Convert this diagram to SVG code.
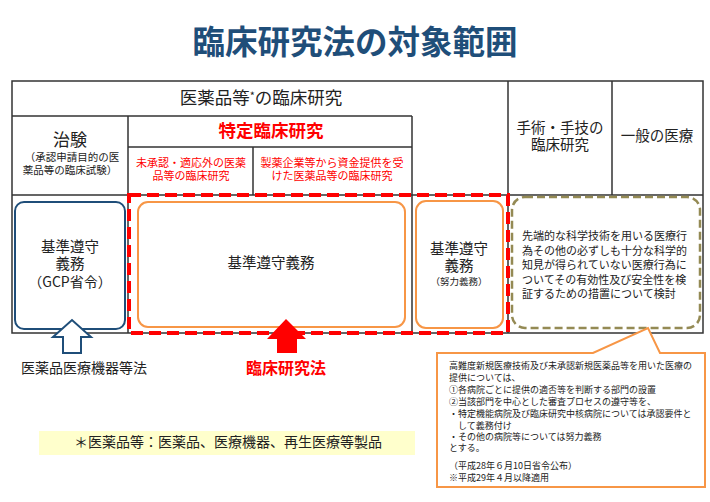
<svg xmlns="http://www.w3.org/2000/svg" width="710" height="502" viewBox="0 0 710 502">
<style>
text{font-family:"Noto Sans CJK JP","Noto Sans",sans-serif;fill:#222;}
.c{text-anchor:middle;}
.tbl{stroke:#333;stroke-width:1.5;fill:none;}
.red{fill:#ff0000;}
.orange{fill:#fff;stroke:#f79646;stroke-width:2;}
</style>
<rect width="710" height="502" fill="#fff"/>
<g id="title"><text x="355" y="54" class="c" font-size="32.5" font-weight="bold" style="fill:#1f4e79">臨床研究法の対象範囲</text></g>
<g id="table">
<rect class="tbl" x="12" y="81" width="691" height="252"/>
<path class="tbl" d="M12 116H412M508 81V333M612 81V195M12 195H703M128 116V333M128 147H412M253 147V195M412 116V333"/>
</g>
<g id="header"><text x="261" y="104" class="c" font-size="17.5">医薬品等<tspan font-size="11" dy="-4">*</tspan><tspan dy="4">の臨床研究</tspan></text></g>
<g id="chiken">
<text x="70" y="146" class="c" font-size="17">治験</text>
<text x="72" y="161" class="c" font-size="10.5">（承認申請目的の医</text>
<text x="70" y="174" class="c" font-size="10.5">薬品等の臨床試験）</text>
</g>
<g id="tokutei"><text x="271" y="137" class="c red" font-size="17.5" font-weight="bold">特定臨床研究</text></g>
<g id="sub1">
<text x="191" y="167" class="c red" font-size="11">未承認・適応外の医薬</text>
<text x="191" y="180" class="c red" font-size="11">品等の臨床研究</text>
</g>
<g id="sub2">
<text x="332" y="167" class="c red" font-size="11">製薬企業等から資金提供を受</text>
<text x="332" y="180" class="c red" font-size="11">けた医薬品等の臨床研究</text>
</g>
<g id="shujutsu">
<text x="560" y="133" class="c" font-size="14.5">手術・手技の</text>
<text x="560" y="150" class="c" font-size="14.5">臨床研究</text>
</g>
<g id="ippan"><text x="657" y="141" class="c" font-size="14.5">一般の医療</text></g>
<g id="gcp">
<rect x="15" y="202" width="110" height="127" rx="9" fill="#fff" stroke="#1f4e79" stroke-width="2"/>
<text x="70" y="252" class="c" font-size="14.5">基準遵守</text>
<text x="70" y="269" class="c" font-size="14.5">義務</text>
<text x="70" y="287" class="c" font-size="14">（GCP省令）</text>
</g>
<g id="kijun-main">
<rect class="orange" x="138" y="202" width="267" height="125" rx="10"/>
<text x="271" y="268" class="c" font-size="14.5">基準遵守義務</text>
</g>
<g id="kijun-effort">
<rect class="orange" x="416" y="201" width="87" height="127" rx="10"/>
<text x="459" y="254" class="c" font-size="14.5">基準遵守</text>
<text x="459" y="271" class="c" font-size="14.5">義務</text>
<text x="459" y="285" class="c" font-size="9.5">（努力義務）</text>
</g>
<g id="redbox"><rect x="129" y="195" width="379" height="138" fill="none" stroke="#ff0000" stroke-width="4" stroke-dasharray="12 6"/></g>
<g id="advanced">
<rect x="512" y="197" width="188" height="131" rx="13" fill="#fff" stroke="#948a54" stroke-width="2.5" stroke-dasharray="8 4"/>
<text font-size="11">
<tspan x="522" y="240">先端的な科学技術を用いる医療行</tspan>
<tspan x="522" y="254.5">為その他の必ずしも十分な科学的</tspan>
<tspan x="522" y="269">知見が得られていない医療行為に</tspan>
<tspan x="522" y="283.5">ついてその有効性及び安全性を検</tspan>
<tspan x="522" y="298">証するための措置について検討</tspan>
</text>
</g>
<g id="connectors">
<path d="M63 353V337H53L72 320L91 337H81V353Z" fill="#fff" stroke="#1f4e79" stroke-width="2" stroke-linejoin="miter"/>
<path d="M277 353V339H267L286 319L306 339H297V353Z" fill="#ff0000"/>
</g>
<g id="yakki"><text x="84" y="373" class="c" font-size="14">医薬品医療機器等法</text></g>
<g id="rinshoho"><text x="286" y="374" class="c red" font-size="16" font-weight="bold">臨床研究法</text></g>
<g id="callout">
<path d="M437 353H593L648 328L660 353H705V487H437Z" fill="#fff" stroke="#f79646" stroke-width="2"/>
<text font-size="9">
<tspan x="449" y="369">高難度新規医療技術及び未承認新規医薬品等を用いた医療の</tspan>
<tspan x="449" y="381">提供については、</tspan>
<tspan x="449" y="393">①各病院ごとに提供の適否等を判断する部門の設置</tspan>
<tspan x="449" y="405">②当該部門を中心とした審査プロセスの遵守等を、</tspan>
<tspan x="449" y="417">・特定機能病院及び臨床研究中核病院については承認要件と</tspan>
<tspan x="449" y="429">　して義務付け</tspan>
<tspan x="449" y="440">・その他の病院等については努力義務</tspan>
<tspan x="449" y="451">とする。</tspan>
<tspan x="449" y="469">（平成28年６月10日省令公布）</tspan>
<tspan x="449" y="481">※平成29年４月以降適用</tspan>
</text>
</g>
<g id="footnote">
<rect x="39" y="431" width="376" height="24" fill="#ffffcc"/>
<text x="228" y="447" class="c" font-size="14">＊医薬品等：医薬品、医療機器、再生医療等製品</text>
</g>
</svg>
